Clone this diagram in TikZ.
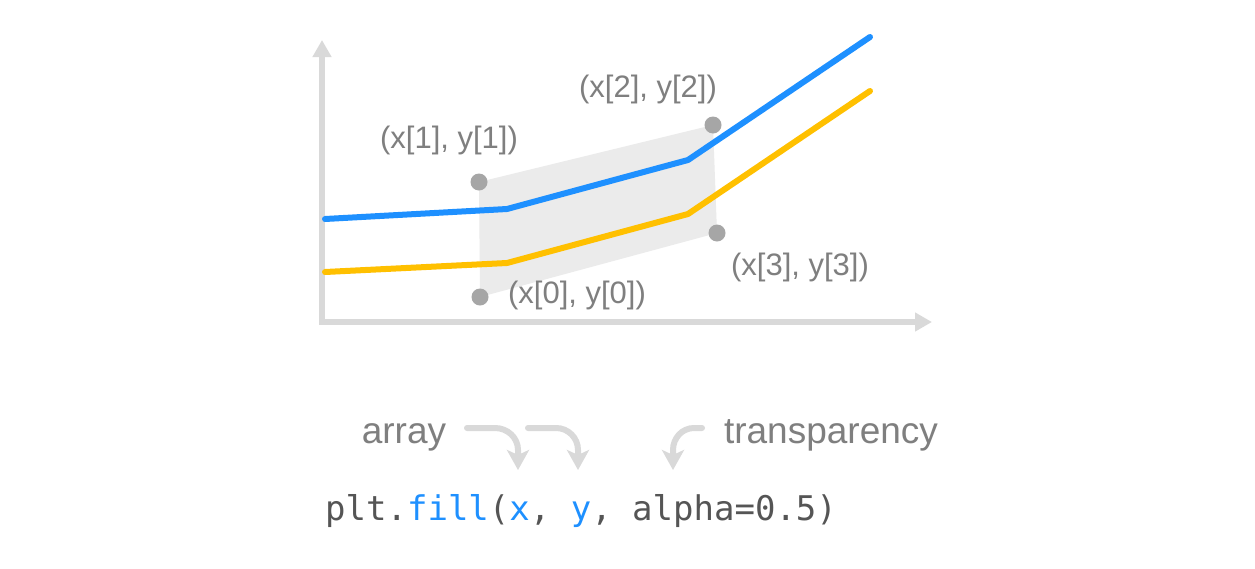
\documentclass[tikz,border=0pt]{standalone}
\usepackage{fontspec}
\setmainfont{Liberation Sans}
\newfontfamily\codefont{DejaVu Sans Mono}
\usepackage{tikz}
\usetikzlibrary{arrows.meta, calc, positioning}
\usepackage{xcolor}
\definecolor{AxisGray}{HTML}{D9D9D9}
\definecolor{AreaGray}{HTML}{EBEBEB}
\definecolor{DotGray}{HTML}{A6A6A6}
\definecolor{TextGray}{HTML}{7F7F7F}
\definecolor{CodeGray}{HTML}{555555}
\definecolor{LineBlue}{HTML}{1E90FF}
\definecolor{LineYellow}{HTML}{FFC000}
\tikzset{%
  axis_line/.style={%
    color=AxisGray,%
    line width=6pt,%
    -{Triangle[length=17pt, width=18pt]}%
  },
  data_line/.style={%
    line width=6pt,%
    line join=round,%
    line cap=round%
  },
  point_dot/.style={%
    circle,%
    fill=DotGray,%
    inner sep=0pt,%
    minimum size=17pt%
  },
  point_label/.style={%
    color=TextGray,%
    font={\fontsize{31}{31}\selectfont},%
    anchor=base,%
    inner sep=0pt%
  },
  hint_text/.style={%
    color=TextGray,%
    font={\fontsize{37}{37}\selectfont},%
    anchor=base,%
    inner sep=0pt%
  },
  hint_arrow/.style={%
    color=AxisGray,%
    line width=6pt,%
    line cap=round,%
    -{Stealth[length=20pt, width=22pt, inset=5pt]}%
  },
}
\begin{document}
\begin{tikzpicture}[x=1pt, y=-1pt]
    \useasboundingbox [fill=white] (0,0) rectangle (1255,568);

    % axes
    \coordinate (origin) at (322,322);
    \coordinate (y_end) at (322,40);
    \coordinate (x_end) at (932,322);
    \draw [axis_line] (origin) -- (y_end);
    \draw [axis_line] ($(origin)+(-3,0)$) -- (x_end);

    % filled area between the four corners
    \coordinate (c0) at (480,297);
    \coordinate (c1) at (479,182);
    \coordinate (c2) at (713,125);
    \coordinate (c3) at (717,233);
    \fill [AreaGray] (c0) -- (c1) -- (c2) -- (c3) -- cycle;

    % lines
    \draw [data_line, LineBlue]
      (325,219) -- (507,209) -- (688,160) -- (870,37);
    \draw [data_line, LineYellow]
      (325,272) -- (507,263) -- (688,214) -- (870,91);

    \node [point_dot] (P0) at (c0) {};
    \node [point_dot] (P1) at (c1) {};
    \node [point_dot] (P2) at (c2) {};
    \node [point_dot] (P3) at (c3) {};

    \node [point_label] (L1) at (449,148) {(x[1], y[1])};
    \node [point_label] (L2) at (648,97) {(x[2], y[2])};
    \node [point_label] (L3) at (800,275) {(x[3], y[3])};
    \node [point_label] (L0) at (577,303) {(x[0], y[0])};

    % call and hints
    \node [anchor=base west, inner sep=0pt, color=CodeGray,
      font={\codefont\fontsize{34}{34}\selectfont}] (Call) at (325,520)
      {plt.\textcolor{LineBlue}{fill}(\textcolor{LineBlue}{x}, \textcolor{LineBlue}{y}, alpha=0.5)};
    \node [hint_text] (Array) at (404,443) {array};
    \node [hint_text] (Alpha) at (831,443) {transparency};

    \coordinate (a1_start) at (467,428);
    \coordinate (a1_end) at (518,470);
    \coordinate (a2_start) at (528,428);
    \coordinate (a2_end) at (578,470);
    \coordinate (a3_start) at (702,428);
    \coordinate (a3_end) at (673,470);
    \draw [hint_arrow]
      (a1_start) -- ++(28,0) to [out=0, in=90] (a1_end |- 0,450) -- (a1_end);
    \draw [hint_arrow]
      (a2_start) -- ++(28,0) to [out=0, in=90] (a2_end |- 0,450) -- (a2_end);
    \draw [hint_arrow]
      (a3_start) -- ++(-8,0) to [out=180, in=90] (a3_end |- 0,450) -- (a3_end);
  \end{tikzpicture}
\end{document}
